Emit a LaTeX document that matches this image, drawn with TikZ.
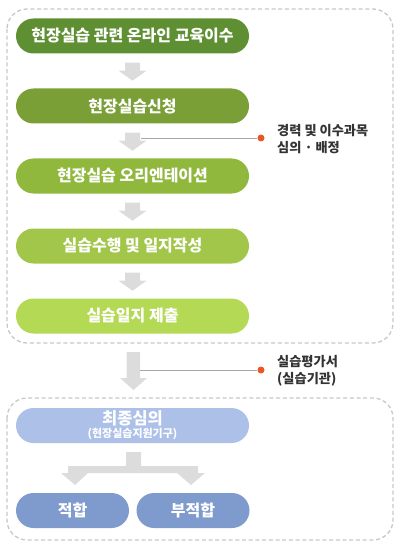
\documentclass[tikz,border=0pt]{standalone}
\usepackage{fontspec}
\setmainfont{Noto Sans CJK KR}
\usepackage{tikz}

\definecolor{gA}{HTML}{5E8F32}
\definecolor{gB}{HTML}{7A9F36}
\definecolor{gC}{HTML}{8FB83D}
\definecolor{gD}{HTML}{A1C64A}
\definecolor{gE}{HTML}{B3D955}
\definecolor{bA}{HTML}{ADC0E8}
\definecolor{bB}{HTML}{7F9BCE}
\definecolor{arrgray}{HTML}{DCDCDC}
\definecolor{framegray}{HTML}{C8C8C8}
\definecolor{dotred}{HTML}{E8562A}

\tikzset{
  stepbox/.style={rounded corners=17.5pt, minimum width=233pt, minimum height=35pt,
    inner sep=0pt, text=white, font=\fontsize{16}{18}\selectfont\bfseries},
  halfbox/.style={stepbox, minimum width=113pt},
  frame/.style={draw=framegray, line width=1.3pt, dash pattern=on 4pt off 2.7pt, rounded corners=20pt},
  lnk/.style={draw=gray!70, line width=0.8pt},
  dotnode/.style={circle, fill=dotred, inner sep=0pt, minimum size=7pt},
  note/.style={anchor=west, align=left, text=black!80, inner sep=0pt,
    font=\fontsize{13.2}{16.5}\selectfont\bfseries},
  downarr/.pic={\fill[arrgray] (-7.5,0) -- (7.5,0) -- (7.5,8) -- (14,8) -- (0,18) -- (-14,8) -- (-7.5,8) -- cycle;}
}

\begin{document}
\begin{tikzpicture}[x=1pt, y=-1pt]
  \useasboundingbox (0,0) rectangle (400,548);

  \draw[frame] (7,9) rectangle (393,343);
  \draw[frame] (7,398) rectangle (393,540);

  \node[stepbox, fill=gA] (s1) at (132.5,36) {현장실습 관련 온라인 교육이수};
  \node[stepbox, fill=gB] (s2) at (132.5,106) {현장실습신청};
  \node[stepbox, fill=gC] (s3) at (132.5,176) {현장실습 오리엔테이션};
  \node[stepbox, fill=gD] (s4) at (132.5,246) {실습수행 및 일지작성};
  \node[stepbox, fill=gE] (s5) at (132.5,316) {실습일지 제출};

  \path (s1.south) ++(0,9) pic {downarr};
  \path (s2.south) ++(0,9) pic {downarr};
  \path (s3.south) ++(0,9) pic {downarr};
  \path (s4.south) ++(0,9) pic {downarr};

  % big arrow out of the first frame
  \fill[arrgray] (126.5,352) -- (140,352) -- (140,378) -- (147,378) -- (133.5,390)
    -- (120,378) -- (126.5,378) -- cycle;

  \node[stepbox, fill=bA] (fin) at (132.5,425.5) {};
  \node[text=white, inner sep=0pt, font=\fontsize{16.5}{18}\selectfont\bfseries] (fint) at (132.5,418.5) {최종심의};
  \node[text=white, inner sep=0pt, font=\fontsize{11}{12}\selectfont\bfseries] (finsub) at (132.5,434) {(현장실습지원기구)};

  \node[halfbox, fill=bB] (ok) at (72.5,510.5) {적합};
  \node[halfbox, fill=bB] (nok) at (193,510.5) {부적합};

  % split arrow
  \fill[arrgray] (126,452) -- (141,452) -- (141,466) -- (198,466) -- (198,473) -- (205,473)
    -- (191,485) -- (177,473) -- (184,473) -- (82,473) -- (88,473) -- (75,485)
    -- (61,473) -- (68,473) -- (68,466) -- (126,466) -- cycle;

  \coordinate (a2) at (141,138);
  \coordinate (a5) at (140,370);
  \node[dotnode] (d1) at (261,138) {};
  \node[dotnode] (d2) at (261,370) {};
  \draw[lnk] (a2) -- (d1);
  \draw[lnk] (a5) -- (d2);
  \node[note] (n1) at (277,139) {경력 및 이수과목\\심의 · 배정};
  \node[note] (n2) at (277,371) {실습평가서\\(실습기관)};
\end{tikzpicture}
\end{document}
